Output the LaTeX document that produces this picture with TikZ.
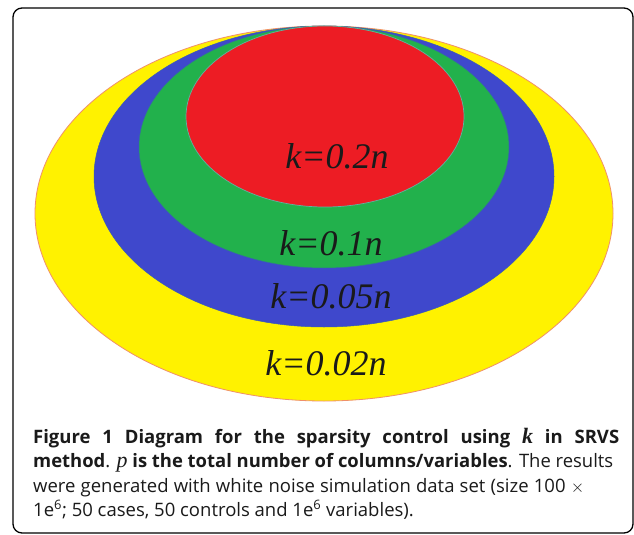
\documentclass[tikz,border=0pt]{standalone}
\usepackage{fontspec}
\usepackage{graphicx}
\setmainfont{Liberation Serif}
\newfontfamily\capfont{Open Sans}
\newfontfamily\serifit{Liberation Serif}
\definecolor{cyel}{HTML}{FFF200}
\definecolor{cblu}{HTML}{3F48CC}
\definecolor{cgrn}{HTML}{22B14C}
\definecolor{cred}{HTML}{ED1C24}
\definecolor{cyedge}{HTML}{F0906A}
\definecolor{credge}{HTML}{5FB3A0}
\definecolor{ctext}{HTML}{1A1A1A}
\tikzset{
  lbl/.style={anchor=base, text=ctext, font=\fontsize{36}{40}\selectfont\itshape, inner sep=0pt},
  capline/.style={anchor=base west, inner sep=0pt, font=\capfont\fontsize{18.5}{22}\selectfont, text=ctext},
  frame/.style={draw=black, line width=1.3pt, rounded corners=9pt}
}
\newcommand{\vk}{{\serifit\itshape\fontsize{22}{22}\selectfont k}}
\newcommand{\vp}{{\serifit\itshape\fontsize{22}{22}\selectfont p}}
\begin{document}
\begin{tikzpicture}[x=1pt,y=-1pt]
\useasboundingbox (0,0) rectangle (634,535);
\fill[white] (0,0) rectangle (634,535);
\draw[frame] (13,8) rectangle (633,533);
% ellipses, all touching at the top
\filldraw[fill=cyel, draw=cyedge, line width=0.8pt] (324,213.5) ellipse [x radius=289pt, y radius=187.5pt];
\filldraw[fill=cblu, draw=cblu!80!cgrn, line width=0.5pt] (324,176.5) ellipse [x radius=230pt, y radius=150.5pt];
\filldraw[fill=cgrn, draw=cblu!60!cgrn, line width=0.5pt] (324,147) ellipse [x radius=185pt, y radius=121pt];
\filldraw[fill=cred, draw=credge, line width=0.7pt] (325,116.5) ellipse [x radius=139pt, y radius=90.5pt];
% labels
\node[lbl] (l1) at (337,168) {k=0.2n};
\node[lbl] (l2) at (331,255) {k=0.1n};
\node[lbl] (l3) at (331,308) {k=0.05n};
\node[lbl] (l4) at (326,375) {k=0.02n};
% caption
\node[capline] (c1) at (33,443) {\makebox[586pt][s]{\textbf{Figure 1 Diagram for the sparsity control using \vk{} in SRVS}}};
\node[capline] (c2) at (33,467) {\resizebox{580pt}{\height}{\textbf{method}. \vp{} \textbf{is the total number of columns/variables}. The results}};
\node[capline] (c3) at (33,492) {\makebox[551pt][s]{were generated with white noise simulation data set (size 100 $\times$}};
\node[capline] (c4) at (33,516) {1e\textsuperscript{6}; 50 cases, 50 controls and 1e\textsuperscript{6} variables).};
\end{tikzpicture}
\end{document}
